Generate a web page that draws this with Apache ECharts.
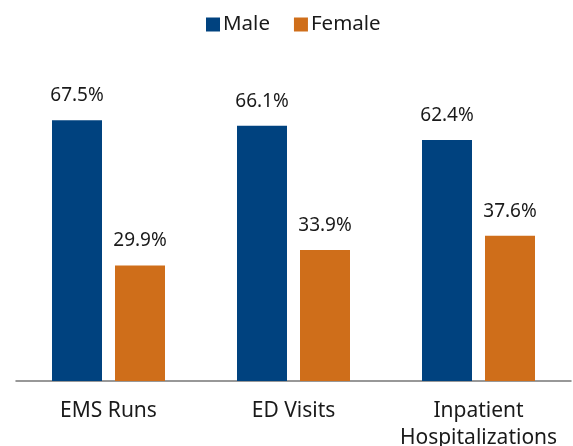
<!DOCTYPE html>
<html><head><meta charset="utf-8">
<script src="https://cdn.jsdelivr.net/npm/echarts@6/dist/echarts.min.js"></script>
<style>html,body{margin:0;padding:0;background:#fff}#c{width:573px;height:446px}</style>
</head><body><div id="c"></div>
<script>
const categories = ['EMS Runs', 'ED Visits', 'Inpatient\nHospitalizations'];
const male = [67.5, 66.1, 62.4];
const female = [29.9, 33.9, 37.6];
const chart = echarts.init(document.getElementById('c'));
const font = 'Noto Sans';
const lbl = {show: true, position: 'top', distance: 15, fontSize: 19, fontFamily: font, color: '#1a1a1a', formatter: p => p.value.toFixed(1) + '%'};
chart.setOption({
  animation: false,
  legend: {top: 9, left: 201, icon: 'rect', itemWidth: 14, itemHeight: 14, itemGap: 24,
    textStyle: {fontSize: 20.5, fontFamily: font, color: '#1a1a1a', padding: [0, 0, 0, -2]}, data: ['Male', 'Female']},
  grid: {left: 16, right: 2, top: 72, bottom: 65, containLabel: false, outerBoundsMode: 'none'},
  xAxis: {type: 'category', data: categories,
    axisLine: {lineStyle: {color: '#777', width: 1.5}}, axisTick: {show: false},
    axisLabel: {interval: 0, hideOverlap: false, fontSize: 21, fontFamily: font, color: '#1a1a1a', margin: 17, lineHeight: 27}},
  yAxis: {type: 'value', min: 0, max: 80, show: false, splitLine: {show: false}},
  series: [
    {name: 'Male', type: 'bar', data: male, barWidth: 50, barGap: '26%', itemStyle: {color: '#00427f'}, label: lbl},
    {name: 'Female', type: 'bar', data: female, barWidth: 50, itemStyle: {color: '#cf6e1a'}, label: lbl}
  ]
});
</script></body></html>
